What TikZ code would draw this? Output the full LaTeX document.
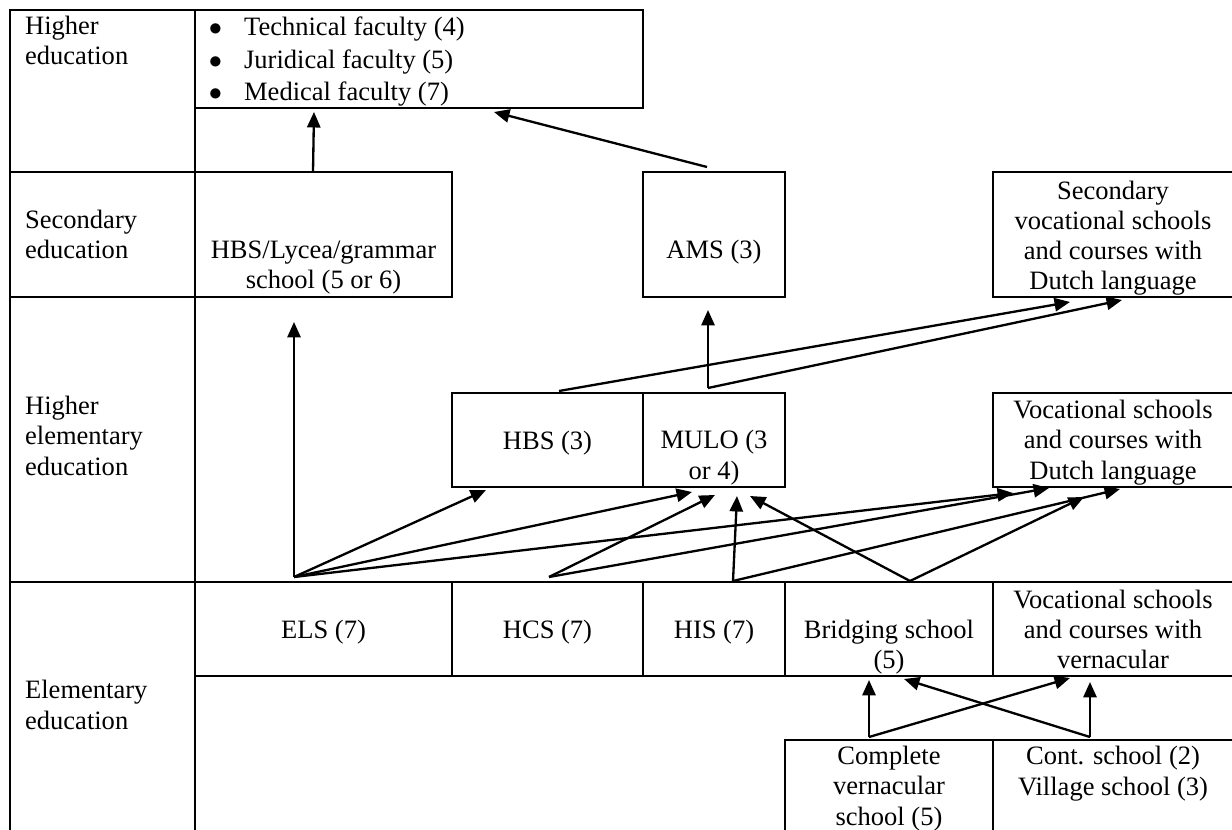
\documentclass[tikz,border=0pt]{standalone}
\usepackage{fontspec}
\setmainfont{Liberation Serif}
\usetikzlibrary{arrows.meta}

\begin{document}
\begin{tikzpicture}[x=0.4525pt, y=-0.4525pt, line width=1.05pt,
		txt/.style={font=\fontsize{12pt}{13.6pt}\selectfont, inner sep=0pt, align=center, anchor=base},
		lbl/.style={txt, align=left, anchor=base west},
		arr/.style={-{Triangle[length=7pt,width=6pt]}}]
		\useasboundingbox (0,0) rectangle (1232,830);
		\clip (0,0) rectangle (1232,830);
		\draw (10,10) rectangle (195,172);
		\draw (10,172) rectangle (195,297);
		\draw (10,297) rectangle (195,582);
		\draw (10,582) rectangle (195,850);
		\draw (195,10) rectangle (643,108);
		\draw (195,172) rectangle (452,297);
		\draw (643,172) rectangle (785,297);
		\draw (993,172) rectangle (1250,297);
		\draw (452,393) rectangle (643,487);
		\draw (643,393) rectangle (785,487);
		\draw (993,393) rectangle (1250,487);
		\draw (195,582) rectangle (452,676);
		\draw (452,582) rectangle (643,676);
		\draw (643,582) rectangle (785,676);
		\draw (785,582) rectangle (993,676);
		\draw (993,582) rectangle (1250,676);
		\draw (785,740) rectangle (993,850);
		\draw (993,740) rectangle (1250,850);
		\node[lbl] (higher) at (24,64.5) {Higher\\education};
		\node[lbl] (secondary) at (24,258.5) {Secondary\\education};
		\node[lbl] (higherelem) at (24,475) {Higher\\elementary\\education};
		\node[lbl] (elementary) at (24,729) {Elementary\\education};
		\node[lbl] (fac1) at (243,36) {\llap{$\bullet$\hspace{10pt}}Technical faculty (4)};
		\node[lbl] (fac2) at (243,68.5) {\llap{$\bullet$\hspace{10pt}}Juridical faculty (5)};
		\node[lbl] (fac3) at (243,101) {\llap{$\bullet$\hspace{10pt}}Medical faculty (7)};
		\node[txt] (lycea) at (323.5,288.5) {HBS/Lycea/grammar\\school (5 or 6)};
		\node[txt] (ams) at (714,259) {AMS (3)};
		\node[txt] (secvoc) at (1113,289.5) {Secondary\\vocational schools\\and courses with\\Dutch language};
		\node[txt] (hbs) at (547.5,449) {HBS (3)};
		\node[txt] (mulo) at (714,479) {MULO (3\\or 4)};
		\node[txt] (vocdutch) at (1113,479) {Vocational schools\\and courses with\\Dutch language};
		\node[txt] (els) at (323.5,638) {ELS (7)};
		\node[txt] (hcs) at (547.5,638) {HCS (7)};
		\node[txt] (his) at (714,638) {HIS (7)};
		\node[txt] (bridging) at (889,668.5) {Bridging school\\(5)};
		\node[txt] (vocvern) at (1113,668.5) {Vocational schools\\and courses with\\vernacular};
		\node[txt] (complete) at (889,825) {Complete\\vernacular\\school (5)};
		\node[txt] (village) at (1113,795) {Cont. school (2)\\Village school (3)};
		\coordinate (els-out) at (294,577);
		\coordinate (hcs-out) at (549,577);
		\coordinate (his-out) at (733,581);
		\coordinate (brid-out) at (910,581);
		\coordinate (cvs-out) at (869,737);
		\coordinate (cont-out) at (1090,737);
		\coordinate (lyc-out) at (313,172);
		\coordinate (ams-out) at (707,167);
		\coordinate (hbs-out) at (559,391);
		\coordinate (mulo-out) at (708,388);
		\coordinate (fac-in1) at (314,112);
		\coordinate (fac-in2) at (494,112);
		\coordinate (lyc-in) at (294,322);
		\coordinate (ams-in) at (708,310);
		\coordinate (svd-in1) at (1070,302);
		\coordinate (svd-in2) at (1122,300);
		\coordinate (hbs-in) at (486,490);
		\coordinate (mulo-in1) at (692,492);
		\coordinate (mulo-in2) at (715,495);
		\coordinate (mulo-in3) at (737,496);
		\coordinate (mulo-in4) at (750,496);
		\coordinate (vd-in1) at (1013,493);
		\coordinate (vd-in2) at (1049,488);
		\coordinate (vd-in3) at (1084,497);
		\coordinate (vd-in4) at (1120,489);
		\coordinate (brid-in1) at (869,680);
		\coordinate (brid-in2) at (904,679);
		\coordinate (vv-in1) at (1070,678);
		\coordinate (vv-in2) at (1090,682);
		\draw[arr] (lyc-out) -- (fac-in1);
		\draw[arr] (ams-out) -- (fac-in2);
		\draw[arr] (mulo-out) -- (ams-in);
		\draw[arr] (mulo-out) -- (svd-in2);
		\draw[arr] (hbs-out) -- (svd-in1);
		\draw[arr] (els-out) -- (lyc-in);
		\draw[arr] (els-out) -- (hbs-in);
		\draw[arr] (els-out) -- (mulo-in1);
		\draw[arr] (els-out) -- (vd-in1);
		\draw[arr] (hcs-out) -- (mulo-in2);
		\draw[arr] (hcs-out) -- (vd-in2);
		\draw[arr] (his-out) -- (mulo-in3);
		\draw[arr] (his-out) -- (vd-in4);
		\draw[arr] (brid-out) -- (mulo-in4);
		\draw[arr] (brid-out) -- (vd-in3);
		\draw[arr] (cvs-out) -- (brid-in1);
		\draw[arr] (cvs-out) -- (vv-in1);
		\draw[arr] (cont-out) -- (vv-in2);
		\draw[arr] (cont-out) -- (brid-in2);
	\end{tikzpicture}
\end{document}
